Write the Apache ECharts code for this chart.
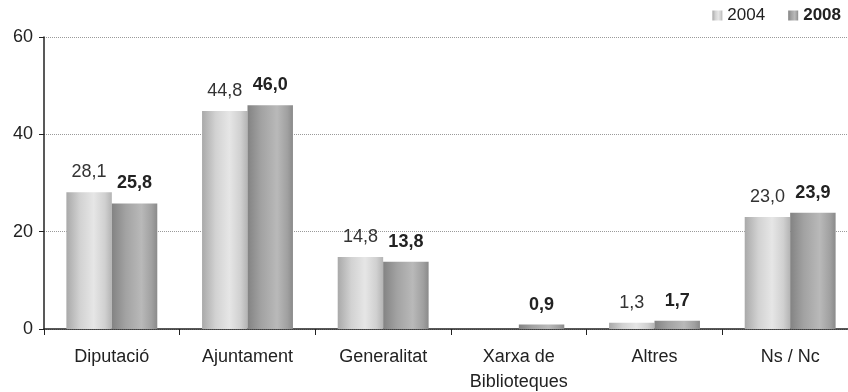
<!DOCTYPE html>
<html>
<head>
<meta charset="utf-8">
<script src="https://cdn.jsdelivr.net/npm/echarts@6/dist/echarts.min.js"></script>
<style>
  html, body { margin: 0; padding: 0; background: #fff; }
  #chart { width: 848px; height: 392px; }
</style>
</head>
<body>
<div id="chart"></div>
<script>
// Categories and values per year
const categories = ['Diputació', 'Ajuntament', 'Generalitat', 'Xarxa de\nBiblioteques', 'Altres', 'Ns / Nc'];
const values2004 = [28.1, 44.8, 14.8, null, 1.3, 23.0];
const values2008 = [25.8, 46.0, 13.8, 0.9, 1.7, 23.9];
const yTicks = [0, 20, 40, 60];

const FONT = '"Liberation Sans", Arial, sans-serif';
const FS = 18;

function grad(stops) {
  return new echarts.graphic.LinearGradient(0, 0, 1, 0,
    stops.map(s => ({ offset: s[0], color: s[1] })));
}
const fill2004 = grad([[0, '#a9a9a9'], [0.3, '#d2d2d2'], [0.6, '#e6e6e6'], [0.85, '#d0d0d0'], [1, '#b4b4b4']]);
const fill2008 = grad([[0, '#838383'], [0.3, '#a2a2a2'], [0.65, '#b9b9b9'], [0.88, '#a0a0a0'], [1, '#8a8a8a']]);

const fmt = p => p.value == null ? '' : p.value.toFixed(1).replace('.', ',');

const chart = echarts.init(document.getElementById('chart'));
chart.setOption({
  animation: false,
  textStyle: { fontFamily: FONT },
  legend: {
    right: 2,
    top: 2,
    itemWidth: 10,
    itemHeight: 10,
    itemGap: 23,
    itemTextGap: 6,
    icon: 'rect',
    textStyle: {
      fontFamily: FONT,
      fontSize: 17,
      color: '#222',
      rich: {
        n: { fontFamily: FONT, fontSize: 17, color: '#222' },
        b: { fontFamily: FONT, fontSize: 17, color: '#222', fontWeight: 'bold' }
      }
    },
    formatter: name => name === '2008' ? '{b|' + name + '}' : '{n|' + name + '}',
    data: ['2004', '2008']
  },
  grid: { left: 44, right: -10, top: 37, bottom: 63, containLabel: false, outerBoundsMode: 'none' },
  xAxis: {
    type: 'category',
    data: categories,
    axisLine: { lineStyle: { color: '#222', width: 1.5 } },
    axisTick: { show: true, length: 6, lineStyle: { color: '#222' } },
    axisLabel: {
      fontFamily: FONT, fontSize: FS, color: '#222', margin: 16, lineHeight: 25
    }
  },
  yAxis: {
    type: 'value',
    min: yTicks[0],
    max: yTicks[yTicks.length - 1],
    interval: 20,
    axisLine: { show: true, lineStyle: { color: '#222', width: 1.5 } },
    axisTick: { show: true, length: 5, lineStyle: { color: '#222' } },
    axisLabel: { fontFamily: FONT, fontSize: FS, color: '#222', margin: 11 },
    splitLine: { show: true, lineStyle: { color: '#9a9a9a', type: 'dotted', width: 1 } }
  },
  series: [
    {
      name: '2004',
      type: 'bar',
      data: values2004,
      barGap: '0%',
      barCategoryGap: '33%',
      itemStyle: { color: fill2004 },
      label: {
        show: true, position: 'top', distance: 11, formatter: fmt,
        fontFamily: FONT, fontSize: FS, color: '#333'
      }
    },
    {
      name: '2008',
      type: 'bar',
      data: values2008,
      itemStyle: { color: fill2008 },
      label: {
        show: true, position: 'top', distance: 11, formatter: fmt,
        fontFamily: FONT, fontSize: FS, color: '#222', fontWeight: 'bold'
      }
    }
  ]
});
</script>
</body>
</html>
